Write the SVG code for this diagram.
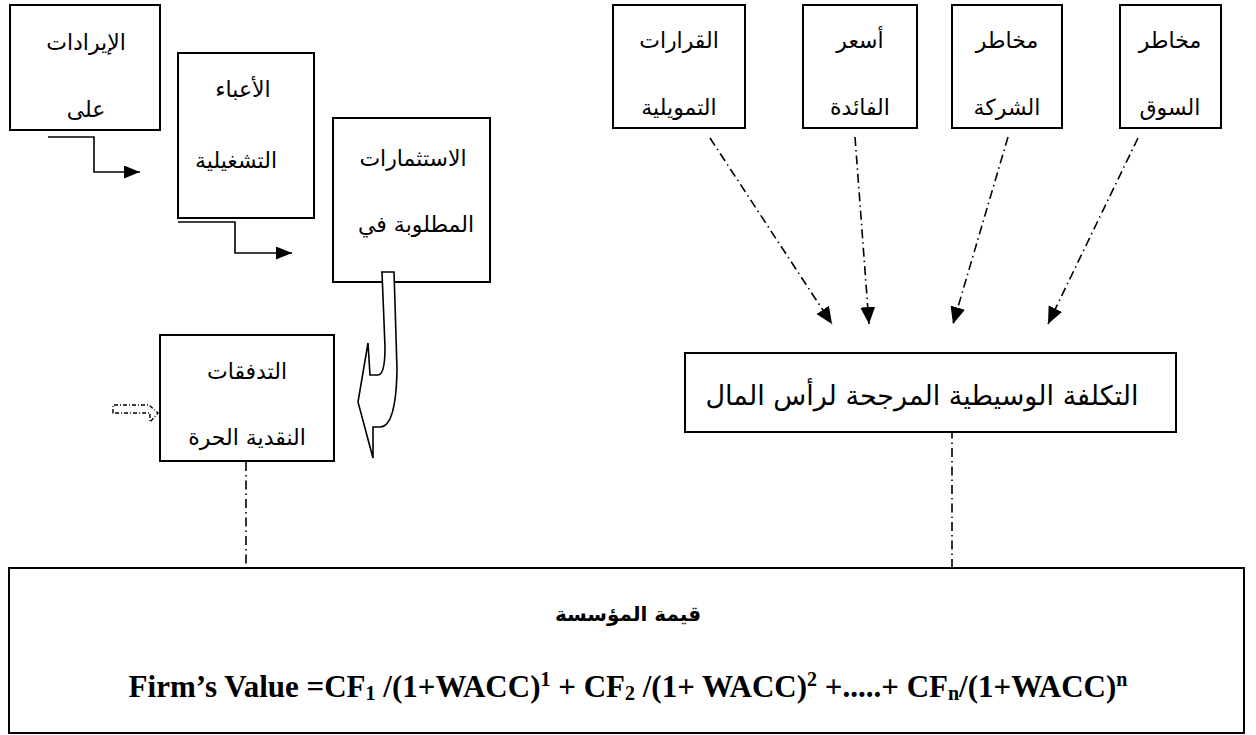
<svg xmlns="http://www.w3.org/2000/svg" width="1256" height="735" viewBox="0 0 1256 735">
  <style>
    .box { fill: #ffffff; stroke: #000000; stroke-width: 2; }
    .ar { font-family: "DejaVu Sans", sans-serif; font-size: 22px; fill: #000000; text-anchor: middle; }
    .wacc { font-family: "DejaVu Sans", sans-serif; font-size: 27px; fill: #000000; text-anchor: middle; }
    .title { font-family: "DejaVu Sans", sans-serif; font-size: 20px; font-weight: bold; fill: #000000; text-anchor: middle; }
    .formula { font-family: "Liberation Serif", "Times New Roman", serif; font-size: 31px; font-weight: bold; fill: #000000; text-anchor: middle; }
    .dashdot { fill: none; stroke: #000000; stroke-width: 1.6; stroke-dasharray: 9 4 1.5 4; }
    .solid { fill: none; stroke: #000000; stroke-width: 1.6; }
  </style>
  <defs>
    <marker id="headDash" markerUnits="userSpaceOnUse" markerWidth="18" markerHeight="16" refX="17" refY="7.5" orient="auto">
      <path d="M0,0 L17,7.5 L0,15 Z" fill="#000000"/>
    </marker>
    <marker id="headSolid" markerUnits="userSpaceOnUse" markerWidth="17" markerHeight="14" refX="16" refY="6.5" orient="auto">
      <path d="M0,0 L16,6.5 L0,13 Z" fill="#000000"/>
    </marker>
    <clipPath id="clipRevenue">
      <rect x="10" y="6" width="150" height="115"/>
    </clipPath>
  </defs>

  <!-- connectors -->
  <g id="connectors">
    <!-- stepped arrows between the operating boxes -->
    <path class="solid" d="M48,137 H94 V172 H140" marker-end="url(#headSolid)"/>
    <path class="solid" d="M178,222 H235 V253 H292" marker-end="url(#headSolid)"/>
    <!-- factors feeding the cost of capital -->
    <path class="dashdot" d="M710,138 L832,324" marker-end="url(#headDash)"/>
    <path class="dashdot" d="M855,137 L869,324" marker-end="url(#headDash)"/>
    <path class="dashdot" d="M1008,137 L953,324" marker-end="url(#headDash)"/>
    <path class="dashdot" d="M1138,138 L1048,324" marker-end="url(#headDash)"/>
    <!-- links down to the firm value box -->
    <path class="dashdot" d="M246,462 V568"/>
    <path class="dashdot" d="M952,374 V568"/>
  </g>

  <!-- revenues -->
  <g id="node-revenues">
    <rect class="box" x="10" y="5" width="150" height="125"/>
    <g clip-path="url(#clipRevenue)">
      <text class="ar" x="86" y="50">الإيرادات</text>
      <text class="ar" x="86" y="117">على</text>
    </g>
  </g>

  <!-- operating charges -->
  <g id="node-charges">
    <rect class="box" x="178" y="53" width="136" height="165"/>
    <text class="ar" x="243" y="97">الأعباء</text>
    <text class="ar" x="236" y="168">التشغيلية</text>
  </g>

  <!-- required investments -->
  <g id="node-investments">
    <rect class="box" x="333" y="118" width="157" height="164"/>
    <text class="ar" x="413" y="166">الاستثمارات</text>
    <text class="ar" x="416" y="232">المطلوبة في</text>
  </g>

  <!-- hooked block arrow from investments to free cash flows -->
  <g id="hook-arrow">
    <path d="M381,272 H394 L395,303 L397,370 Q396,427 380,427 L373,427 L373,458 L358,402 L368,343 L370,375 L378,375 Q385,375 385,347 L382,272 Z" fill="#ffffff" stroke="#000000" stroke-width="1.6" stroke-linejoin="miter"/>
  </g>

  <!-- free cash flows -->
  <g id="node-fcf">
    <rect class="box" x="160" y="335" width="174" height="126"/>
    <text class="ar" x="247" y="379">التدفقات</text>
    <text class="ar" x="247" y="445">النقدية الحرة</text>
    <path d="M113,413 V405 H149 L158,413 L150,422 V413 Z" fill="none" stroke="#000000" stroke-width="1.4" stroke-dasharray="4 2 1 2"/>
  </g>

  <!-- financing decisions -->
  <g id="node-financing">
    <rect class="box" x="613" y="5" width="132" height="123"/>
    <text class="ar" x="679" y="48">القرارات</text>
    <text class="ar" x="679" y="115">التمويلية</text>
  </g>

  <!-- interest rates -->
  <g id="node-interest">
    <rect class="box" x="803" y="5" width="114" height="123"/>
    <text class="ar" x="860" y="48">أسعر</text>
    <text class="ar" x="860" y="115">الفائدة</text>
  </g>

  <!-- firm risk -->
  <g id="node-firm-risk">
    <rect class="box" x="952" y="5" width="110" height="123"/>
    <text class="ar" x="1007" y="48">مخاطر</text>
    <text class="ar" x="1007" y="115">الشركة</text>
  </g>

  <!-- market risk -->
  <g id="node-market-risk">
    <rect class="box" x="1120" y="5" width="101" height="123"/>
    <text class="ar" x="1170" y="48">مخاطر</text>
    <text class="ar" x="1170" y="115">السوق</text>
  </g>

  <!-- weighted average cost of capital -->
  <g id="node-wacc">
    <rect class="box" x="685" y="353" width="491" height="79"/>
    <text class="wacc" x="922" y="405">التكلفة الوسيطية المرجحة لرأس المال</text>
  </g>

  <!-- firm value -->
  <g id="node-firm-value">
    <rect class="box" x="9" y="568" width="1235" height="165"/>
    <text class="title" x="628" y="621">قيمة المؤسسة</text>
    <text class="formula" x="628" y="697">Firm’s Value =CF<tspan font-size="20" dy="3">1</tspan><tspan dy="-3"> /(1+WACC)</tspan><tspan font-size="20" dy="-11">1</tspan><tspan dy="11"> + CF</tspan><tspan font-size="20" dy="3">2</tspan><tspan dy="-3"> /(1+ WACC)</tspan><tspan font-size="20" dy="-11">2</tspan><tspan dy="11"> +.....+ CF</tspan><tspan font-size="20" dy="3">n</tspan><tspan dy="-3">/(1+WACC)</tspan><tspan font-size="20" dy="-11">n</tspan></text>
  </g>
</svg>
